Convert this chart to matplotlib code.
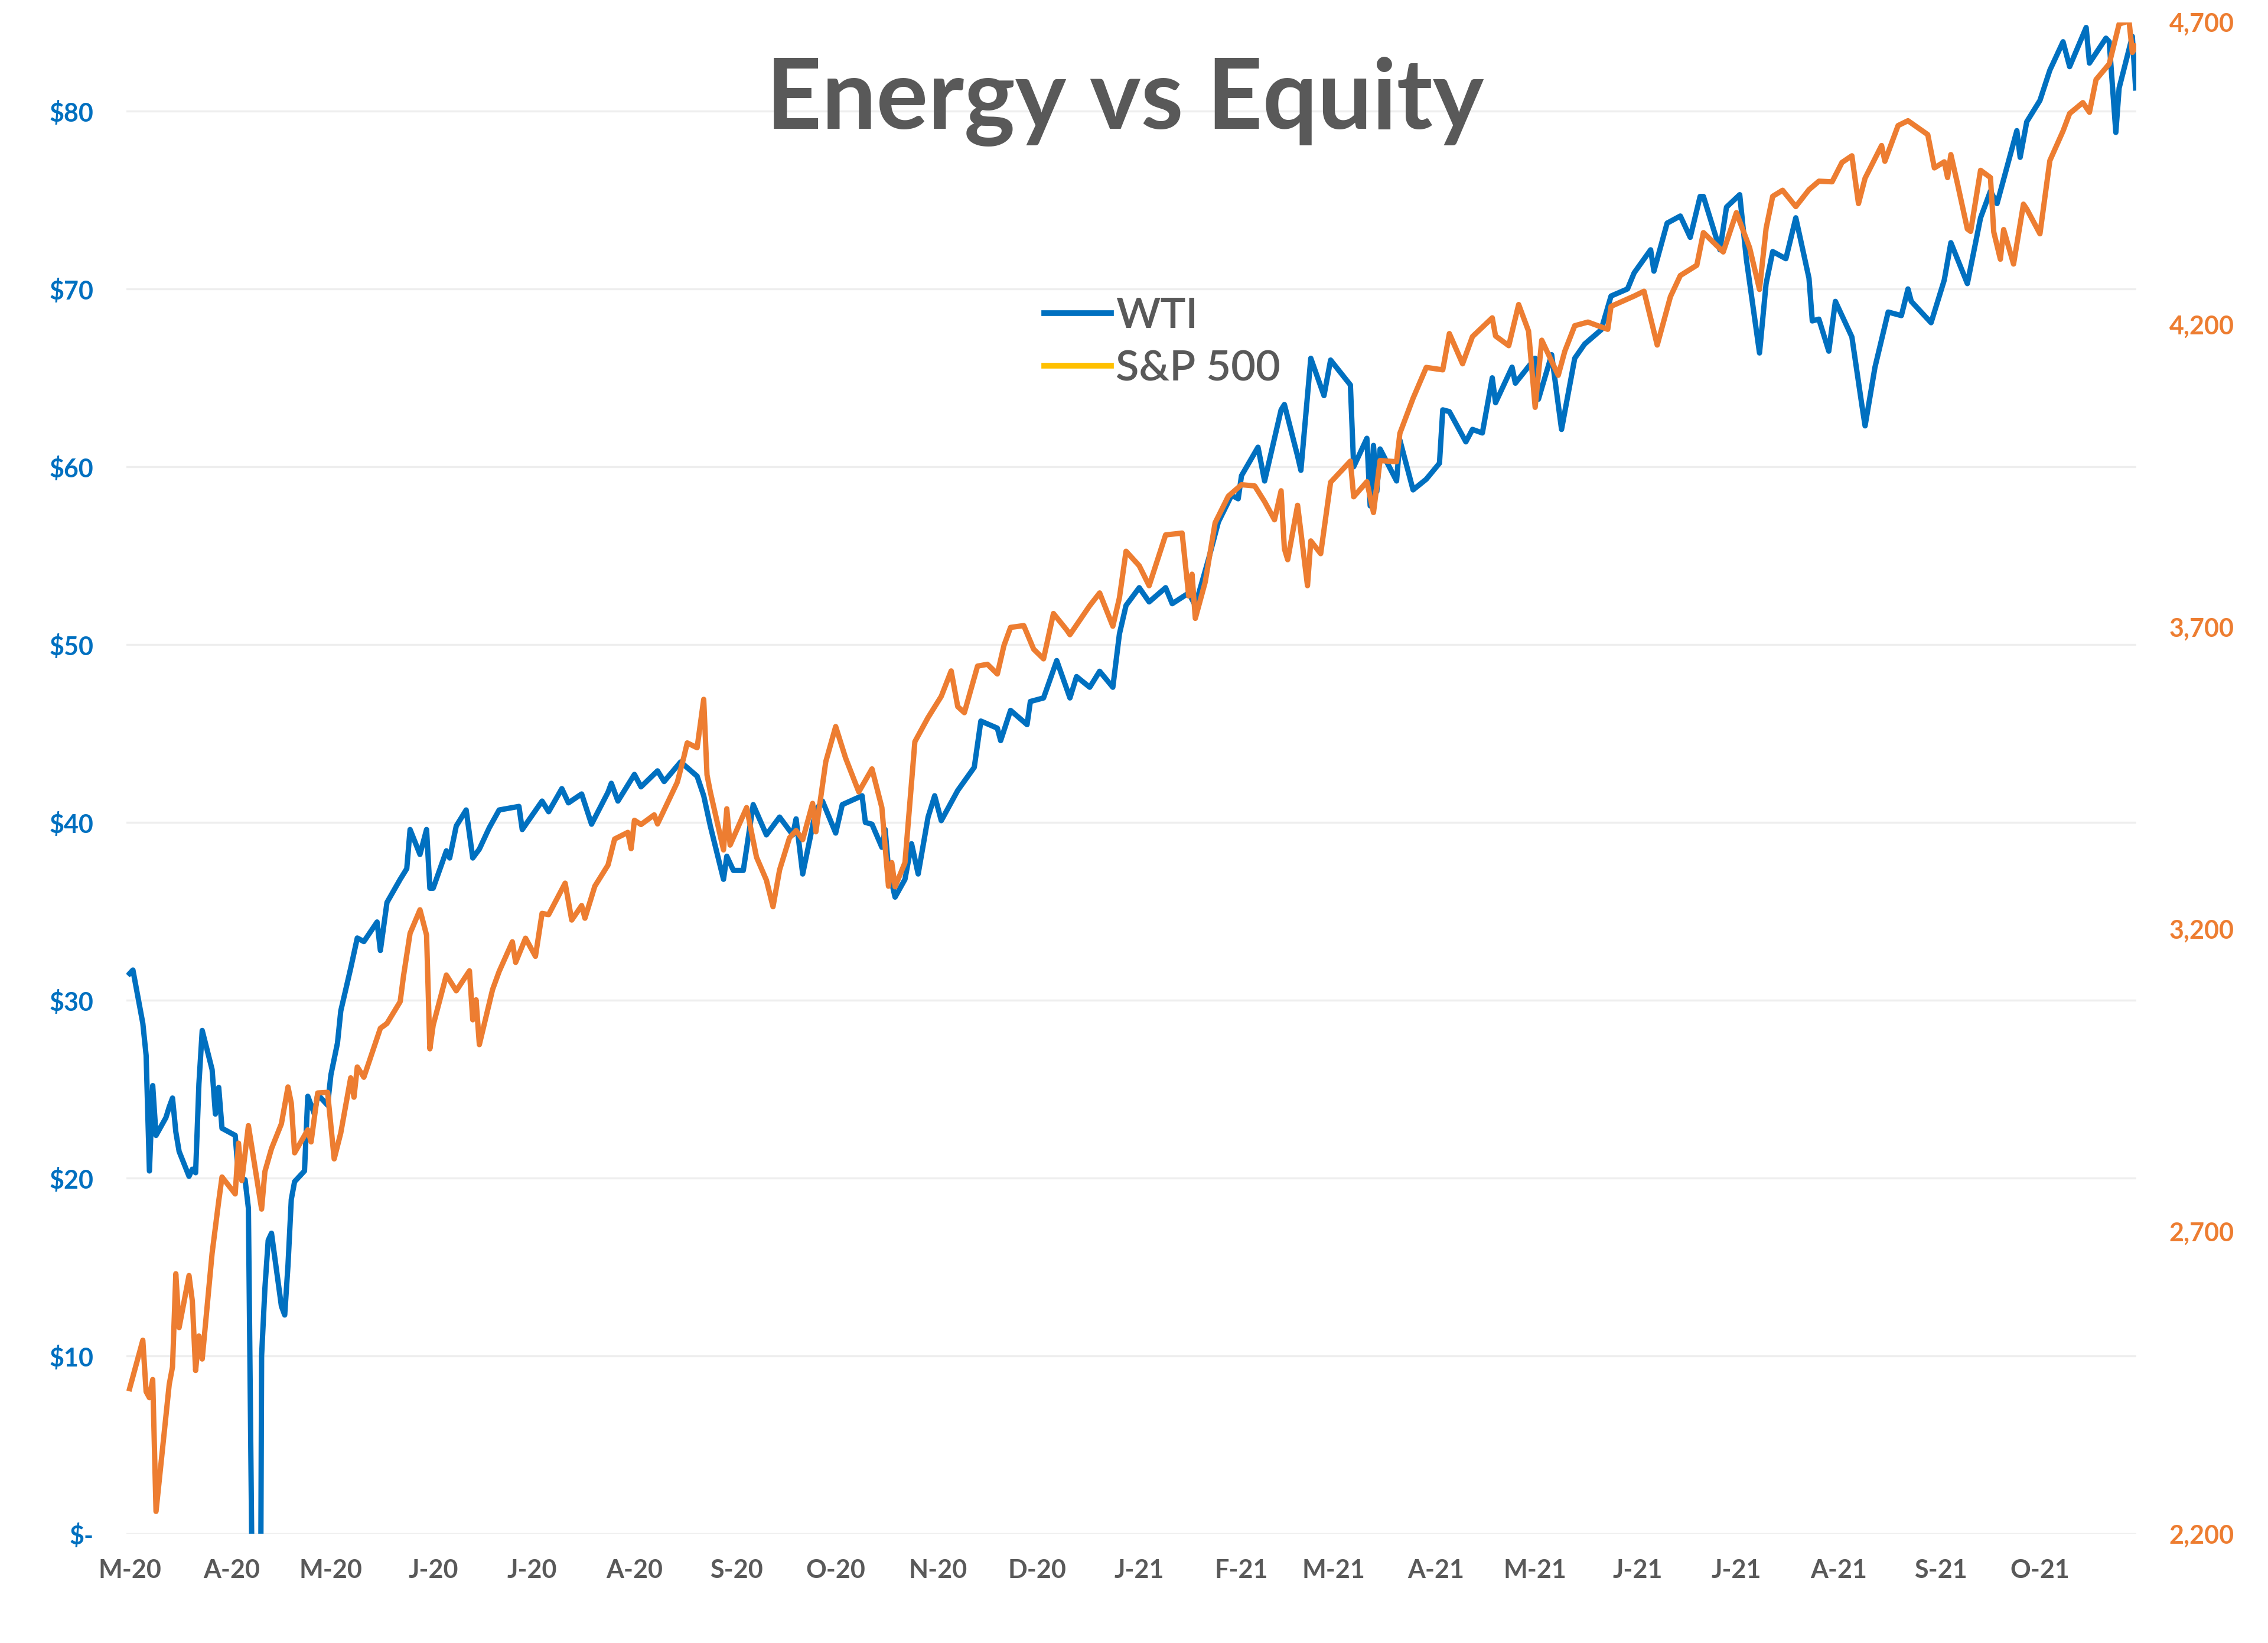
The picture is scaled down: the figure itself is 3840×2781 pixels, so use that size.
import matplotlib
matplotlib.use('Agg')
import matplotlib.pyplot as plt
from matplotlib.lines import Line2D
import pandas as pd

plt.rcParams['font.family'] = ['Lato', 'DejaVu Sans']

title = 'Energy vs Equity'

# WTI crude, $/bbl (left axis)
wti_dates = [
    '2020-03-12', '2020-03-13', '2020-03-16', '2020-03-17', '2020-03-18', '2020-03-19', '2020-03-20',
    '2020-03-23', '2020-03-24', '2020-03-25', '2020-03-26', '2020-03-27', '2020-03-30', '2020-03-31',
    '2020-04-01', '2020-04-02', '2020-04-03', '2020-04-06', '2020-04-07', '2020-04-08', '2020-04-09',
    '2020-04-13', '2020-04-14', '2020-04-16', '2020-04-17', '2020-04-20', '2020-04-21', '2020-04-22',
    '2020-04-23', '2020-04-24', '2020-04-27', '2020-04-28', '2020-04-29', '2020-04-30',
    '2020-05-01', '2020-05-04', '2020-05-05', '2020-05-07', '2020-05-08', '2020-05-11', '2020-05-12',
    '2020-05-14', '2020-05-15', '2020-05-18', '2020-05-20', '2020-05-22', '2020-05-26', '2020-05-27',
    '2020-05-29',
    '2020-06-02', '2020-06-04', '2020-06-05', '2020-06-08', '2020-06-10', '2020-06-11', '2020-06-12',
    '2020-06-16', '2020-06-17', '2020-06-19', '2020-06-22', '2020-06-24', '2020-06-26', '2020-06-29',
    '2020-07-02', '2020-07-08', '2020-07-09', '2020-07-15', '2020-07-17', '2020-07-21', '2020-07-23',
    '2020-07-27', '2020-07-30',
    '2020-08-04', '2020-08-05', '2020-08-07', '2020-08-12', '2020-08-14', '2020-08-19', '2020-08-21',
    '2020-08-26', '2020-08-31',
    '2020-09-02', '2020-09-04', '2020-09-08', '2020-09-09', '2020-09-11', '2020-09-14', '2020-09-17',
    '2020-09-21', '2020-09-25', '2020-09-29', '2020-09-30',
    '2020-10-02', '2020-10-06', '2020-10-08', '2020-10-12', '2020-10-14', '2020-10-20', '2020-10-21',
    '2020-10-23', '2020-10-26', '2020-10-27', '2020-10-28', '2020-10-30',
    '2020-11-02', '2020-11-04', '2020-11-06', '2020-11-09', '2020-11-11', '2020-11-13', '2020-11-18',
    '2020-11-23', '2020-11-25', '2020-11-30',
    '2020-12-01', '2020-12-04', '2020-12-09', '2020-12-10', '2020-12-14', '2020-12-18', '2020-12-22',
    '2020-12-24', '2020-12-28', '2020-12-31',
    '2021-01-04', '2021-01-06', '2021-01-08', '2021-01-12', '2021-01-15', '2021-01-20', '2021-01-22',
    '2021-01-27', '2021-01-29',
    '2021-02-02', '2021-02-05', '2021-02-09', '2021-02-11', '2021-02-12', '2021-02-17', '2021-02-19',
    '2021-02-24', '2021-02-25',
    '2021-03-01', '2021-03-02', '2021-03-05', '2021-03-09', '2021-03-11', '2021-03-17', '2021-03-18',
    '2021-03-22', '2021-03-23', '2021-03-24', '2021-03-25', '2021-03-26', '2021-03-31',
    '2021-04-01', '2021-04-05', '2021-04-09', '2021-04-13', '2021-04-14', '2021-04-16', '2021-04-21',
    '2021-04-23', '2021-04-26', '2021-04-29', '2021-04-30',
    '2021-05-05', '2021-05-06', '2021-05-12', '2021-05-13', '2021-05-17', '2021-05-20', '2021-05-24',
    '2021-05-27',
    '2021-06-01', '2021-06-04', '2021-06-09', '2021-06-11', '2021-06-16', '2021-06-17', '2021-06-21',
    '2021-06-25', '2021-06-28',
    '2021-07-01', '2021-07-02', '2021-07-07', '2021-07-09', '2021-07-13', '2021-07-15', '2021-07-19',
    '2021-07-21', '2021-07-23', '2021-07-27', '2021-07-30',
    '2021-08-03', '2021-08-04', '2021-08-06', '2021-08-09', '2021-08-11', '2021-08-16', '2021-08-19',
    '2021-08-20', '2021-08-23', '2021-08-27', '2021-08-31',
    '2021-09-02', '2021-09-03', '2021-09-09', '2021-09-13', '2021-09-15', '2021-09-20', '2021-09-24',
    '2021-09-27', '2021-09-29',
    '2021-10-05', '2021-10-06', '2021-10-08', '2021-10-12', '2021-10-15', '2021-10-19', '2021-10-21',
    '2021-10-26', '2021-10-27',
    '2021-11-01', '2021-11-02', '2021-11-04', '2021-11-05', '2021-11-09', '2021-11-10',
]
wti_values = [
    31.5, 31.7, 28.7, 26.9, 20.4, 25.2, 22.4,
    23.4, 24.0, 24.5, 22.6, 21.5, 20.1, 20.5,
    20.3, 25.3, 28.3, 26.1, 23.6, 25.1, 22.8,
    22.4, 20.1, 19.9, 18.3, -37.6, 10.0, 13.8,
    16.5, 16.9, 12.8, 12.3, 15.1, 18.8,
    19.8, 20.4, 24.6, 23.6, 24.7, 24.1, 25.8,
    27.6, 29.4, 31.8, 33.5, 33.3, 34.4, 32.8,
    35.5,
    36.8, 37.4, 39.6, 38.2, 39.6, 36.3, 36.3,
    38.4, 38.0, 39.8, 40.7, 38.0, 38.5, 39.7,
    40.7, 40.9, 39.6, 41.2, 40.6, 41.9, 41.1,
    41.6, 39.9,
    41.7, 42.2, 41.2, 42.7, 42.0, 42.9, 42.3,
    43.4, 42.6,
    41.5, 39.8, 36.8, 38.1, 37.3, 37.3, 41.0,
    39.3, 40.3, 39.3, 40.2,
    37.1, 40.7, 41.2, 39.4, 41.0, 41.5, 40.0,
    39.9, 38.6, 39.6, 37.4, 35.8,
    36.8, 38.8, 37.1, 40.3, 41.5, 40.1, 41.8,
    43.1, 45.7, 45.3,
    44.6, 46.3, 45.5, 46.8, 47.0, 49.1, 47.0,
    48.2, 47.6, 48.5,
    47.6, 50.6, 52.2, 53.2, 52.4, 53.2, 52.3,
    52.9, 52.2,
    54.8, 56.9, 58.4, 58.2, 59.5, 61.1, 59.2,
    63.2, 63.5,
    60.6, 59.8, 66.1, 64.0, 66.0, 64.6, 60.0,
    61.6, 57.8, 61.2, 58.6, 61.0, 59.2,
    61.5, 58.7, 59.3, 60.2, 63.2, 63.1, 61.4,
    62.1, 61.9, 65.0, 63.6,
    65.6, 64.7, 66.1, 63.8, 66.3, 62.1, 66.1,
    66.9,
    67.7, 69.6, 70.0, 70.9, 72.2, 71.0, 73.7,
    74.1, 72.9,
    75.2, 75.2, 72.2, 74.6, 75.3, 71.7, 66.4,
    70.3, 72.1, 71.7, 74.0,
    70.6, 68.2, 68.3, 66.5, 69.3, 67.3, 63.5,
    62.3, 65.6, 68.7, 68.5,
    70.0, 69.3, 68.1, 70.5, 72.6, 70.3, 74.0,
    75.5, 74.8,
    78.9, 77.4, 79.4, 80.6, 82.3, 83.9, 82.5,
    84.7, 82.7,
    84.1, 83.9, 78.8, 81.3, 84.2, 81.3,
]

# S&P 500 index (right axis)
sp_dates = [
    '2020-03-12', '2020-03-16', '2020-03-17', '2020-03-18', '2020-03-19', '2020-03-20',
    '2020-03-24', '2020-03-25', '2020-03-26', '2020-03-27', '2020-03-30', '2020-03-31',
    '2020-04-01', '2020-04-02', '2020-04-03', '2020-04-06', '2020-04-08', '2020-04-09', '2020-04-13',
    '2020-04-14', '2020-04-15', '2020-04-17', '2020-04-21', '2020-04-22', '2020-04-24', '2020-04-27',
    '2020-04-29', '2020-04-30',
    '2020-05-01', '2020-05-05', '2020-05-06', '2020-05-08', '2020-05-11', '2020-05-13', '2020-05-15',
    '2020-05-18', '2020-05-19', '2020-05-20', '2020-05-22', '2020-05-27', '2020-05-29',
    '2020-06-02', '2020-06-03', '2020-06-05', '2020-06-08', '2020-06-10', '2020-06-11', '2020-06-12',
    '2020-06-16', '2020-06-19', '2020-06-23', '2020-06-24', '2020-06-25', '2020-06-26', '2020-06-30',
    '2020-07-02', '2020-07-06', '2020-07-07', '2020-07-10', '2020-07-13', '2020-07-15', '2020-07-17',
    '2020-07-22', '2020-07-24', '2020-07-27', '2020-07-28', '2020-07-31',
    '2020-08-04', '2020-08-06', '2020-08-10', '2020-08-11', '2020-08-12', '2020-08-14', '2020-08-18',
    '2020-08-19', '2020-08-21', '2020-08-25', '2020-08-27', '2020-08-28', '2020-08-31',
    '2020-09-02', '2020-09-03', '2020-09-04', '2020-09-08', '2020-09-09', '2020-09-10', '2020-09-15',
    '2020-09-18', '2020-09-21', '2020-09-23', '2020-09-25', '2020-09-28', '2020-09-30',
    '2020-10-02', '2020-10-05', '2020-10-06', '2020-10-09', '2020-10-12', '2020-10-15', '2020-10-19',
    '2020-10-23', '2020-10-26', '2020-10-28', '2020-10-29', '2020-10-30',
    '2020-11-02', '2020-11-04', '2020-11-05', '2020-11-09', '2020-11-13', '2020-11-16', '2020-11-18',
    '2020-11-20', '2020-11-24', '2020-11-27', '2020-11-30',
    '2020-12-02', '2020-12-04', '2020-12-08', '2020-12-11', '2020-12-14', '2020-12-17', '2020-12-21',
    '2020-12-22', '2020-12-24', '2020-12-28', '2020-12-31',
    '2021-01-04', '2021-01-06', '2021-01-08', '2021-01-12', '2021-01-15', '2021-01-20', '2021-01-25',
    '2021-01-27', '2021-01-28', '2021-01-29',
    '2021-02-01', '2021-02-04', '2021-02-08', '2021-02-12', '2021-02-16', '2021-02-19', '2021-02-22',
    '2021-02-24', '2021-02-25', '2021-02-26',
    '2021-03-01', '2021-03-04', '2021-03-05', '2021-03-08', '2021-03-11', '2021-03-17', '2021-03-18',
    '2021-03-22', '2021-03-24', '2021-03-26', '2021-03-31',
    '2021-04-01', '2021-04-05', '2021-04-09', '2021-04-14', '2021-04-16', '2021-04-20', '2021-04-23',
    '2021-04-29', '2021-04-30',
    '2021-05-04', '2021-05-07', '2021-05-10', '2021-05-12', '2021-05-14', '2021-05-19', '2021-05-21',
    '2021-05-24', '2021-05-28',
    '2021-06-03', '2021-06-04', '2021-06-11', '2021-06-14', '2021-06-18', '2021-06-22', '2021-06-25',
    '2021-06-30',
    '2021-07-02', '2021-07-08', '2021-07-12', '2021-07-16', '2021-07-19', '2021-07-21', '2021-07-23',
    '2021-07-26', '2021-07-30',
    '2021-08-03', '2021-08-06', '2021-08-10', '2021-08-13', '2021-08-16', '2021-08-18', '2021-08-20',
    '2021-08-25', '2021-08-26', '2021-08-30',
    '2021-09-02', '2021-09-08', '2021-09-10', '2021-09-13', '2021-09-14', '2021-09-15', '2021-09-17',
    '2021-09-20', '2021-09-21', '2021-09-24', '2021-09-27', '2021-09-28', '2021-09-30',
    '2021-10-01', '2021-10-04', '2021-10-07', '2021-10-08', '2021-10-12', '2021-10-15', '2021-10-19',
    '2021-10-21', '2021-10-25', '2021-10-27', '2021-10-29',
    '2021-11-02', '2021-11-05', '2021-11-08', '2021-11-09', '2021-11-10',
]
sp_values = [
    2440, 2520, 2435, 2425, 2455, 2237,
    2447, 2476, 2630, 2541, 2627, 2585,
    2470, 2527, 2489, 2664, 2750, 2790, 2762,
    2846, 2784, 2875, 2737, 2799, 2837, 2878,
    2939, 2912,
    2830, 2868, 2848, 2929, 2930, 2820, 2863,
    2954, 2922, 2972, 2955, 3036, 3044,
    3080, 3122, 3193, 3232, 3190, 3002, 3041,
    3124, 3098, 3131, 3050, 3083, 3009, 3100,
    3130, 3179, 3145, 3185, 3155, 3226, 3224,
    3276, 3215, 3239, 3218, 3271,
    3306, 3349, 3360, 3333, 3380, 3373, 3389,
    3374, 3397, 3443, 3485, 3508, 3500,
    3580, 3455, 3427, 3331, 3399, 3339, 3401,
    3319, 3281, 3237, 3298, 3351, 3363,
    3348, 3408, 3361, 3477, 3535, 3483, 3427,
    3465, 3401, 3271, 3310, 3270,
    3310, 3443, 3510, 3550, 3585, 3627, 3568,
    3558, 3635, 3638, 3622,
    3669, 3699, 3702, 3663, 3647, 3722, 3695,
    3687, 3703, 3735, 3756,
    3701, 3748, 3825, 3801, 3768, 3852, 3855,
    3751, 3787, 3714,
    3774, 3872, 3916, 3935, 3933, 3907, 3877,
    3925, 3829, 3811,
    3901, 3768, 3842, 3821, 3939, 3974, 3915,
    3940, 3889, 3975, 3973,
    4020, 4078, 4129, 4125, 4185, 4135, 4180,
    4211, 4181,
    4165, 4233, 4189, 4063, 4174, 4116, 4156,
    4198, 4204,
    4192, 4230, 4247, 4255, 4166, 4246, 4281,
    4298,
    4352, 4320, 4385, 4327, 4258, 4359, 4412,
    4422, 4395,
    4423, 4437, 4436, 4468, 4479, 4400, 4442,
    4496, 4470, 4529,
    4537, 4514, 4459, 4469, 4443, 4481, 4433,
    4358, 4354, 4455, 4443, 4353, 4308,
    4357, 4300, 4399, 4391, 4350, 4471, 4520,
    4549, 4567, 4551, 4605,
    4631, 4697, 4702, 4650, 4660,
]

tick_dates = [
    '2020-03-12', '2020-04-12', '2020-05-12', '2020-06-12', '2020-07-12', '2020-08-12', '2020-09-12',
    '2020-10-12', '2020-11-12', '2020-12-12', '2021-01-12', '2021-02-12', '2021-03-12', '2021-04-12',
    '2021-05-12', '2021-06-12', '2021-07-12', '2021-08-12', '2021-09-12', '2021-10-12',
]
tick_labels = ['M-20', 'A-20', 'M-20', 'J-20', 'J-20', 'A-20', 'S-20', 'O-20', 'N-20', 'D-20',
               'J-21', 'F-21', 'M-21', 'A-21', 'M-21', 'J-21', 'J-21', 'A-21', 'S-21', 'O-21']
left_ticks = [0, 10, 20, 30, 40, 50, 60, 70, 80]
left_labels = ['$-', '$10', '$20', '$30', '$40', '$50', '$60', '$70', '$80']
right_ticks = [2200, 2700, 3200, 3700, 4200, 4700]
right_labels = ['2,200', '2,700', '3,200', '3,700', '4,200', '4,700']

BLUE = '#0070C0'
ORANGE = '#ED7D31'
GOLD = '#FFC000'
GREY = '#595959'

fig = plt.figure(figsize=(38.4, 27.81), dpi=100)
ax = fig.add_axes([0.0557, 0.0665, 0.8863, 0.92])
ax2 = ax.twinx()

ax.plot(pd.to_datetime(wti_dates), wti_values, color=BLUE, lw=6.5, solid_joinstyle='round')
ax2.plot(pd.to_datetime(sp_dates), sp_values, color=ORANGE, lw=6.5, solid_joinstyle='round')

ax.set_xlim(pd.Timestamp('2020-03-11'), pd.Timestamp('2021-11-10 06:00'))
ax.set_ylim(0, 85)
ax2.set_ylim(2200, 4700)

ax.set_yticks(left_ticks)
ax.set_yticklabels(left_labels)
ax2.set_yticks(right_ticks)
ax2.set_yticklabels(right_labels)
ax.set_xticks(pd.to_datetime(tick_dates))
ax.set_xticklabels(tick_labels)

ax.yaxis.grid(True, color='#EEEEEE', lw=2.5)
ax.xaxis.grid(False)
ax.set_axisbelow(True)

for a in (ax, ax2):
    for s in a.spines.values():
        s.set_visible(False)
    a.tick_params(length=0)

ax.tick_params(axis='y', colors=BLUE, labelsize=31, pad=40)
ax2.tick_params(axis='y', colors=ORANGE, labelsize=31, pad=40)
ax.tick_params(axis='x', colors=GREY, labelsize=31, pad=30)
for lab in ax.get_yticklabels() + ax2.get_yticklabels() + ax.get_xticklabels():
    lab.set_fontweight('bold')

fig.text(0.496, 1 - 172 / 2781, title, ha='center', va='center',
         fontsize=118, fontweight='bold', color=GREY)

handles = [Line2D([], [], color=BLUE, lw=7), Line2D([], [], color=GOLD, lw=7)]
fig.legend(handles, ['WTI', 'S&P 500'], loc='center left',
           bbox_to_anchor=(1768 / 3840, 1 - 580 / 2781), frameon=False,
           prop={'size': 52, 'weight': 'semibold'}, labelcolor=GREY,
           handlelength=1.56, handletextpad=0.12,
           labelspacing=0.32, borderpad=0, borderaxespad=0)

fig.savefig('out.png', dpi=100)
